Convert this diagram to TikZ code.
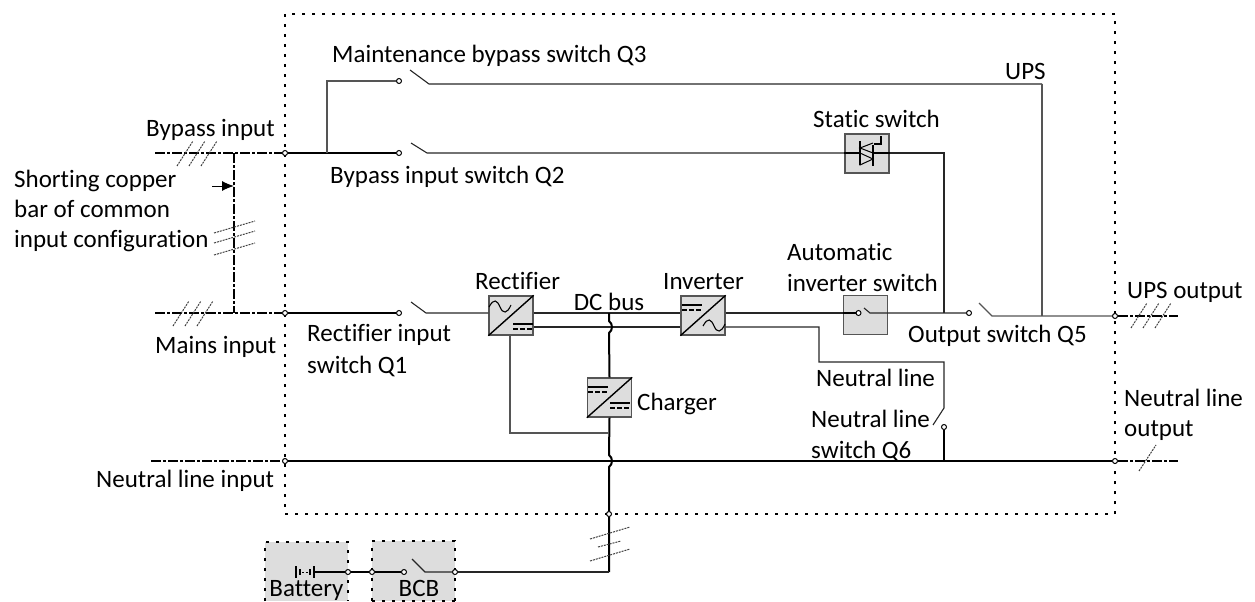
\documentclass[tikz,border=0pt]{standalone}
\usepackage{fontspec}
\setmainfont[Ligatures=NoCommon]{Carlito}
\usetikzlibrary{arrows,arrows.meta,shapes,calc,positioning}
\definecolor{boxgray}{HTML}{DDDDDD}
\definecolor{wiregray}{HTML}{555555}
\tikzset{
    every node/.style={font=\fontsize{25}{29}\selectfont, inner sep=0pt},
    lbl/.style={anchor=base west},
    mid/.style={anchor=base},
    term/.style={circle, draw=black, fill=white, line width=1pt, minimum size=5pt},
    conv/.style={rectangle, draw=wiregray, fill=boxgray, line width=1.3pt, minimum width=44pt, minimum height=39pt},
    bus/.style={line width=2pt, black},
    wire/.style={line width=1.1pt, black!85},
    feed/.style={line width=1.3pt, wiregray},
    ext/.style={line width=2pt, black, dash pattern=on 10pt off 2pt on 3pt off 2pt},
    frame/.style={line width=2.4pt, black, dash pattern=on 3pt off 7pt},
    slash/.style={line width=1pt, black!75, dash pattern=on 2pt off 1pt}
}
% sine and dc marks of the converters
\newcommand{\acmark}[2]{\draw[line width=1.1pt, black] (#1-11,#2) .. controls (#1-6,#2-9) and (#1-3,#2-7) .. (#1,#2) .. controls (#1+3,#2+7) and (#1+7,#2+7) .. (#1+11,#2-2);}
\newcommand{\dcmark}[2]{
    \draw[line width=1.5pt, black] (#1-10,#2-3) -- (#1+10,#2-3);
    \draw[line width=1.5pt, black, dash pattern=on 5pt off 2pt] (#1-10,#2+2) -- (#1+10,#2+2);
}
\begin{document}
\begin{tikzpicture}[x=1pt, y=-1pt]
    \useasboundingbox (0,0) rectangle (1255,602);

    % boxes
    \node[conv] (rect) at (511, 315.5) {};
    \node[conv] (inv) at (703, 315.5) {};
    \node[conv] (chg) at (609.5, 397.5) {};
    \node[conv] (static) at (867, 153.5) {};
    \node[conv] (auto) at (865.5, 315) {};
    \fill[boxgray] (265,542) rectangle (348,601);
    \fill[boxgray] (372,541) rectangle (455,601);
    \draw[frame] (265,601) -- (265,542) -- (348,542) -- (348,601);
    \draw[frame] (372,601) -- (372,541) -- (455,541) -- (455,601);
    \draw[frame] (372,601) -- (455,601);

    % frame of the UPS
    \draw[frame] (285,14) rectangle (1115,514);

    % end points
    \coordinate (bypIn) at (155, 153);
    \coordinate (mainsIn) at (155, 313);
    \coordinate (neuIn) at (151, 461);
    \coordinate (upsOut) at (1178, 316);
    \coordinate (neuOut) at (1178, 461);
    \coordinate (barTop) at (234, 153);
    \coordinate (barBot) at (234, 313);
    \coordinate (barArr) at (212, 186);
    \coordinate (barHit) at (234, 186);
    \coordinate (q3Tap) at (327, 153);
    \coordinate (q3Up) at (327, 81);
    \coordinate (q3Blade) at (429, 84);
    \coordinate (q3Open) at (410, 70);
    \coordinate (q3Right) at (1042, 84);
    \coordinate (q3Join) at (1042, 316);
    \coordinate (q2Blade) at (427, 153);
    \coordinate (q2Open) at (411, 143);
    \coordinate (ssRight) at (944, 153);
    \coordinate (ssJoin) at (944, 313);
    \coordinate (q1Blade) at (426, 313);
    \coordinate (q1Open) at (411, 302);
    \coordinate (q5Blade) at (992, 316);
    \coordinate (q5Open) at (979, 303);
    \coordinate (autoBlade) at (870, 313);
    \coordinate (autoOpen) at (864, 308);
    \coordinate (invLow) at (819, 327);
    \coordinate (invDown) at (819, 362);
    \coordinate (q6Corner) at (944, 362);
    \coordinate (q6Blade) at (944, 408);
    \coordinate (q6Open) at (933, 425);
    \coordinate (q6Foot) at (944, 461);
    \coordinate (dcTop) at (609, 313);
    \coordinate (dcBot) at (609, 572);
    \coordinate (dcTap) at (609, 433);
    \coordinate (rectDown) at (510, 433);
    \coordinate (bcbBlade) at (425, 572);
    \coordinate (bcbOpen) at (412, 559);
    \coordinate (batEnd) at (315, 572);

    % terminals
    \node[term] (f1) at (285, 153) {};
    \node[term] (f2) at (285, 313) {};
    \node[term] (f3) at (285, 461) {};
    \node[term] (f4) at (1115, 316) {};
    \node[term] (f5) at (1115, 461) {};
    \node[term] (f6) at (609, 514) {};
    \node[term] (q3In) at (399, 81) {};
    \node[term] (q2In) at (399, 153) {};
    \node[term] (q1In) at (399, 313) {};
    \node[term] (q5In) at (969, 313) {};
    \node[term] (autoIn) at (858.5, 313) {};
    \node[term] (q6In) at (944, 427) {};
    \node[term] (batT) at (348, 572) {};
    \node[term] (bcbL) at (372, 572) {};
    \node[term] (bcbIn) at (404, 572) {};
    \node[term] (bcbR) at (455, 572) {};

    % outside lines
    \draw[ext] (bypIn) -- (f1);
    \draw[ext] (mainsIn) -- (f2);
    \draw[ext] (neuIn) -- (f3);
    \draw[ext] (f4) -- (upsOut);
    \draw[ext] (f5) -- (neuOut);
    \draw[ext] (barTop) -- (barBot);
    \draw[-{Latex[length=12pt, width=10pt]}, line width=1pt] (barArr) -- (barHit);

    % bypass and maintenance path
    \draw[bus] (f1) -- (q2In);
    \draw[feed] (q3Tap) -- (q3Up) -- (q3In);
    \draw[wire] (q3Open) -- (q3Blade) -- (q3Right);
    \draw[wire] (q2Open) -- (q2Blade) -- (static.west |- q2Blade);
    \draw[wire] (static.east |- ssRight) -- (ssRight) -- (ssJoin);

    % main path
    \draw[bus] (f2) -- (q1In);
    \draw[wire] (q1Open) -- (q1Blade) -- (rect.west |- q1Blade);
    \draw[wire] (rect.east |- dcTop) -- (inv.west |- dcTop);
    \draw[wire] (rect.east |- invLow) -- (inv.west |- invLow);
    \draw[wire] (inv.east |- dcTop) -- (autoIn);
    \draw[bus] (auto.west |- autoIn) -- (autoIn);
    \draw[wire] (autoOpen) -- (autoBlade) -- (q5In);
    \draw[feed] (q5Open) -- (q5Blade) -- (f4);
    \draw[feed] (q3Right) -- (q3Join);

    % neutral
    \draw[wire] (inv.east |- invLow) -- (invLow) -- (invDown) -- (q6Corner) -- (q6Blade) -- (q6Open);
    \draw[bus] (q6In) -- (q6Foot);
    \draw[bus] (f3) -- (f5);

    % dc bus with its two jumps
    \draw[bus] (dcTop) -- (609,321) .. controls (613,324) and (613,330) .. (609,333) -- (chg.north);
    \draw[bus] (chg.south) -- (609,455) .. controls (613,458) and (613,464) .. (609,467) -- (f6) -- (dcBot);
    \draw[feed] (rect.south -| rectDown) -- (rectDown) -- (dcTap);

    % battery path
    \draw[bus] (batEnd) -- (batT);
    \draw[bus] (batT) -- (bcbL);
    \draw[bus] (bcbL) -- (bcbIn);
    \draw[wire] (bcbOpen) -- (bcbBlade) -- (bcbR);
    \draw[wire] (bcbR) -- (dcBot);
    \draw[line width=1.5pt] (296,566) -- (296,578);
    \draw[line width=1.5pt] (300,569) -- (300,575);
    \draw[line width=1pt, dash pattern=on 2pt off 1.5pt] (302,572) -- (308,572);
    \draw[line width=1.5pt] (310,569) -- (310,575);
    \draw[line width=2pt] (314,566) -- (314,578);

    % converter marks
    \foreach \boxname in {rect,inv,chg}
        \draw[line width=1.4pt, black] (\boxname.south west) -- (\boxname.north east);
    \acmark{500}{307}
    \dcmark{523}{327}
    \dcmark{692}{308}
    \acmark{714}{326}
    \dcmark{598}{390}
    \dcmark{620}{406}

    % static switch mark
    \draw[bus] (static.west |- q2Blade) -- (860,153);
    \draw[bus] (873,153) -- (static.east |- q2Blade);
    \draw[line width=1.5pt] (860,141) -- (860,165);
    \draw[line width=1.5pt] (873,145) -- (873,166);
    \draw[line width=1pt] (873,143) -- (860,148) -- (873,153);
    \draw[line width=1pt] (860,153) -- (873,159) -- (860,165) -- cycle;
    \draw[line width=1.5pt] (874,144) -- (881,144) -- (881,136);

    % slashes
    \foreach \sx in {177,189,201}
        \draw[slash] (\sx,166) -- (\sx+16,141);
    \foreach \sx in {173,185,197}
        \draw[slash] (\sx,326) -- (\sx+16,301);
    \foreach \sx in {1131,1143,1155}
        \draw[slash] (\sx,328) -- (\sx+16,303);
    \draw[slash] (1139,471) -- (1156,445);
    \foreach \sy in {233,243,255}
        \draw[slash] (214,\sy) -- (255,\sy-12);
    \draw[slash] (590,539) -- (630,527);
    \draw[slash] (598,547) -- (621,541);
    \draw[slash] (590,561) -- (630,549);

    % labels
    \node[lbl] (lQ3) at (332, 63) {Maintenance bypass switch Q3};
    \node[lbl] (lUps) at (1005, 80) {UPS};
    \node[lbl] (lStatic) at (813, 127) {Static switch};
    \node[lbl] (lByp) at (146, 136) {Bypass input};
    \node[lbl] (lQ2) at (330, 183) {Bypass input switch Q2};
    \node[lbl] (lS1) at (14, 187) {Shorting copper};
    \node[lbl] (lS2) at (14, 217) {bar of common};
    \node[lbl] (lS3) at (14, 247) {input configuration};
    \node[lbl] (lAuto1) at (787, 260) {Automatic};
    \node[lbl] (lAuto2) at (787, 291) {inverter switch};
    \node[lbl] (lRect) at (475, 289) {Rectifier};
    \node[lbl] (lInv) at (663, 289) {Inverter};
    \node[mid] (lDc) at (609, 310) {DC bus};
    \node[lbl] (lOut) at (1127, 298) {UPS output};
    \node[lbl] (lMains) at (155, 353) {Mains input};
    \node[lbl] (lQ11) at (307, 341) {Rectifier input};
    \node[lbl] (lQ12) at (307, 373) {switch Q1};
    \node[lbl] (lQ5) at (908, 342) {Output switch Q5};
    \node[lbl] (lNeu) at (816, 386) {Neutral line};
    \node[lbl] (lChg) at (637, 410) {Charger};
    \node[lbl] (lQ61) at (811, 427) {Neutral line};
    \node[lbl] (lQ62) at (811, 458) {switch Q6};
    \node[lbl] (lNo1) at (1124, 406) {Neutral line};
    \node[lbl] (lNo2) at (1124, 436) {output};
    \node[lbl] (lNi) at (96, 487) {Neutral line input};
    \node[mid] (lBat) at (306.5, 596) {Battery};
    \node[mid] (lBcb) at (419, 596) {BCB};
\end{tikzpicture}
\end{document}
